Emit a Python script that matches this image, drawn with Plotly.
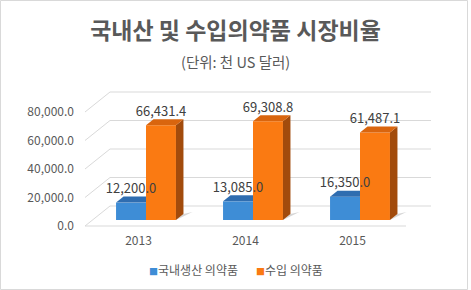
import plotly.graph_objects as go

# ---- data ----
years = ["2013", "2014", "2015"]
domestic = [12200.0, 13085.0, 16350.0]
imported = [66431.4, 69308.8, 61487.1]
series_names = ["국내생산 의약품", "수입 의약품"]
y_ticks = [0, 20000, 40000, 60000, 80000]

title_text = "국내산 및 수입의약품 시장비율"
subtitle_text = "(단위: 천 US 달러)"

# ---- layout constants (pixels) ----
W, H = 471, 290
X0, XSTEP = 146.0, 107.0
Y0 = 220.0
PXV = 114.0 / 80000.0
DX, DY = 25.0, 20.0
BAR_W = 0.28
BAR_D = 0.3
FRONT_D, BACK_D = -0.3, 0.7

def dxu(d):
    return DX * d / XSTEP

def dyu(d):
    return DY * d / PXV

def pt(x, v, d):
    return x + dxu(d), v + dyu(d)

xr = [(0 - X0) / XSTEP, (W - X0) / XSTEP]
yr = [(Y0 - H) / PXV, Y0 / PXV]

colors = {
    "front": ["#3E8DD6", "#FA7A12"],
    "top": ["#2F6DB0", "#D9650E"],
    "side": ["#27599A", "#A24B0C"],
}

fig = go.Figure()

shapes = []
grid_col = "#D9D9D9"
for v in y_ticks:
    a = pt(-0.5, v, FRONT_D)
    b = pt(-0.5, v, BACK_D)
    c = pt(2.5, v, BACK_D)
    shapes.append(dict(type="line", x0=a[0], y0=a[1], x1=b[0], y1=b[1], xref="x", yref="y",
                       line=dict(color=grid_col, width=1), layer="below"))
    shapes.append(dict(type="line", x0=b[0], y0=b[1], x1=c[0], y1=c[1], xref="x", yref="y",
                       line=dict(color=grid_col, width=1), layer="below"))
fa = pt(-0.5, 0, FRONT_D)
fb = pt(2.5, 0, FRONT_D)
shapes.append(dict(type="line", x0=fa[0], y0=fa[1], x1=fb[0], y1=fb[1], xref="x", yref="y",
                   line=dict(color=grid_col, width=1), layer="below"))
shapes.append(dict(type="rect", x0=0.5, y0=0.5, x1=467.5, y1=289.5, xref="x2", yref="y2",
                   line=dict(color="#D9D9D9", width=1), fillcolor="rgba(0,0,0,0)", layer="below"))

xcat = list(range(len(years)))
for si, vals in enumerate([domestic, imported]):
    off = -BAR_W if si == 0 else 0.0
    fig.add_trace(go.Bar(
        x=xcat, y=vals, width=BAR_W, offset=off, name=series_names[si],
        marker=dict(color=colors["front"][si], line=dict(width=0)),
        showlegend=False, hoverinfo="skip"))

for i in xcat:
    for si, vals in enumerate([domestic, imported]):
        v = vals[i]
        xl = i - BAR_W if si == 0 else i
        xrr = xl + BAR_W
        if si == 1:
            p1 = (xrr, 0)
            p2 = pt(xrr, 0, BAR_D)
            p3 = (p2[0] + 9 / XSTEP, p2[1] + 2 / PXV)
            fig.add_trace(go.Scatter(x=[p1[0], p3[0], p2[0], p1[0]], y=[p1[1], p3[1], p2[1], p1[1]],
                                     fill="toself", mode="lines", line=dict(width=0),
                                     fillcolor="rgba(120,120,120,0.30)", showlegend=False, hoverinfo="skip"))
            s1 = (xrr, 0); s2 = (xrr, v); s3 = pt(xrr, v, BAR_D); s4 = pt(xrr, 0, BAR_D)
            fig.add_trace(go.Scatter(x=[s1[0], s2[0], s3[0], s4[0], s1[0]],
                                     y=[s1[1], s2[1], s3[1], s4[1], s1[1]],
                                     fill="toself", mode="lines", line=dict(width=0),
                                     fillcolor=colors["side"][si], showlegend=False, hoverinfo="skip"))
            t1 = (xl, v); t2 = (xrr, v); t3 = pt(xrr, v, BAR_D); t4 = pt(xl, v, BAR_D)
        else:
            t1 = (xl, v); t2 = (xrr, v); t3 = (xrr, v + dyu(BAR_D)); t4 = pt(xl, v, BAR_D)
        fig.add_trace(go.Scatter(x=[t1[0], t2[0], t3[0], t4[0], t1[0]],
                                 y=[t1[1], t2[1], t3[1], t4[1], t1[1]],
                                 fill="toself", mode="lines", line=dict(width=0),
                                 fillcolor=colors["top"][si], showlegend=False, hoverinfo="skip"))

for si, vals in enumerate([domestic, imported]):
    off = -BAR_W / 2 if si == 0 else BAR_W / 2
    fig.add_trace(go.Scatter(
        x=[i + off for i in xcat], y=[v + dyu(BAR_D) for v in vals],
        mode="text", text=[f"{v:,.1f}" for v in vals], textposition="top center",
        textfont=dict(family="Noto Sans CJK KR", size=13, color="#404040"),
        showlegend=False, hoverinfo="skip", cliponaxis=False))

for si in range(2):
    fig.add_trace(go.Scatter(
        x=[None], y=[None], mode="markers",
        name=f'<span style="color:{colors["front"][si]};font-size:9px">■</span>{series_names[si]}',
        marker=dict(symbol="square", size=1, color="rgba(0,0,0,0)")))

fig.update_layout(
    width=W, height=H, autosize=False,
    margin=dict(l=0, r=0, t=0, b=0, pad=0),
    paper_bgcolor="white", plot_bgcolor="rgba(0,0,0,0)",
    showlegend=True,
    legend=dict(orientation="h", x=109 / W, xanchor="left", y=1 - 270 / H, yanchor="middle",
                font=dict(family="Noto Sans CJK KR", size=12, color="#595959"),
                itemwidth=30, entrywidth=62, bgcolor="rgba(0,0,0,0)", tracegroupgap=0),
    title=dict(text=f"<b>{title_text}</b>", x=0.5, xanchor="center", y=1 - 31 / H, yanchor="middle",
               font=dict(family="Noto Sans CJK KR", size=23, color="#595959")),
    annotations=[dict(text=subtitle_text, xref="paper", yref="paper", x=0.5, y=1 - 62 / H,
                      xanchor="center", yanchor="middle", showarrow=False,
                      font=dict(family="Noto Sans CJK KR", size=14.5, color="#595959"))],
    shapes=shapes,
    xaxis=dict(range=xr, domain=[0, 1], anchor="free", position=1 - (Y0 + 6) / H,
               tickmode="array", tickvals=[i + dxu(FRONT_D) for i in xcat], ticktext=years,
               showgrid=False, zeroline=False, showline=False, ticks="", ticklabelstandoff=6,
               tickfont=dict(family="Noto Sans CJK KR", size=12, color="#595959"), fixedrange=True),
    yaxis=dict(range=yr, domain=[0, 1], anchor="free", position=(X0 - 0.5 * XSTEP + DX * FRONT_D) / W,
               tickmode="array", tickvals=[v + dyu(FRONT_D) for v in y_ticks],
               ticktext=[f"{v:,.1f}" for v in y_ticks],
               showgrid=False, zeroline=False, showline=False, ticks="", ticklabelstandoff=11,
               tickfont=dict(family="Noto Sans CJK KR", size=12, color="#595959"), fixedrange=True),
    xaxis2=dict(range=[0, W], domain=[0, 1], overlaying="x", visible=False, anchor="y2"),
    yaxis2=dict(range=[H, 0], domain=[0, 1], overlaying="y", visible=False, anchor="x2"),
)
fig.add_trace(go.Scatter(x=[None], y=[None], xaxis="x2", yaxis="y2", showlegend=False, hoverinfo="skip"))

fig.write_html("out.html")
